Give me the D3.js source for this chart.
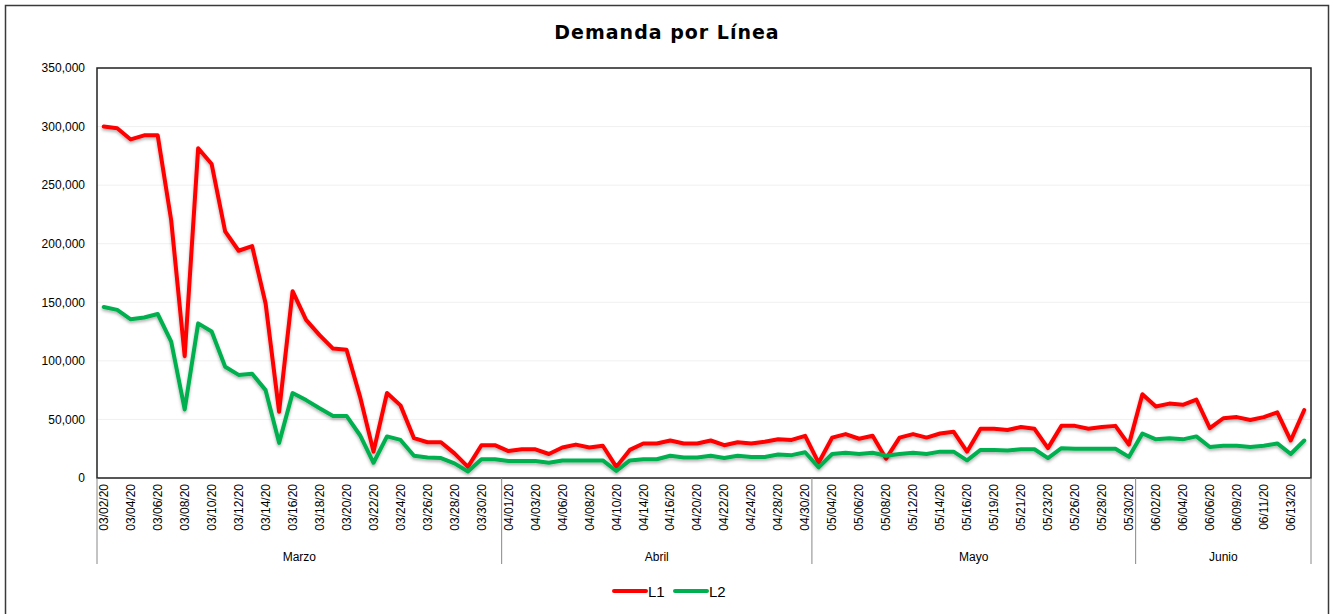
<!DOCTYPE html>
<html><head><meta charset="utf-8">
<script src="https://cdn.jsdelivr.net/npm/d3@7"></script>
<style>body{margin:0;background:#fff}svg{display:block}</style>
</head><body>
<svg id="c" width="1333" height="614"></svg>
<script>
const categories = [
 "03/02/20","03/03/20","03/04/20","03/05/20","03/06/20","03/07/20","03/08/20","03/09/20","03/10/20","03/11/20",
 "03/12/20","03/13/20","03/14/20","03/15/20","03/16/20","03/17/20","03/18/20","03/19/20","03/20/20","03/21/20",
 "03/22/20","03/23/20","03/24/20","03/25/20","03/26/20","03/27/20","03/28/20","03/29/20","03/30/20","03/31/20",
 "04/01/20","04/02/20","04/03/20","04/04/20","04/06/20","04/07/20","04/08/20","04/09/20","04/10/20","04/13/20",
 "04/14/20","04/15/20","04/16/20","04/17/20","04/20/20","04/21/20","04/22/20","04/23/20","04/24/20","04/27/20",
 "04/28/20","04/29/20","04/30/20",
 "05/02/20","05/04/20","05/05/20","05/06/20","05/07/20","05/08/20","05/11/20","05/12/20","05/13/20","05/14/20",
 "05/15/20","05/16/20","05/18/20","05/19/20","05/20/20","05/21/20","05/22/20","05/23/20","05/25/20","05/26/20",
 "05/27/20","05/28/20","05/29/20","05/30/20",
 "06/01/20","06/02/20","06/03/20","06/04/20","06/05/20","06/06/20","06/08/20","06/09/20","06/10/20","06/11/20",
 "06/12/20","06/13/20","06/15/20"
];
const monthNames = {"03":"Marzo","04":"Abril","05":"Mayo","06":"Junio"};
const L1 = [
 300000,298500,289000,292500,292500,220000,104000,281500,268000,210500,
 194000,198000,149000,56500,159500,135000,122000,110500,109500,69500,
 22500,72500,62000,34000,30500,30500,21000,9500,28000,28000,
 23000,24500,24500,20500,26000,28500,26000,27500,9500,24000,
 29500,29500,32000,29500,29500,32000,28000,30500,29500,31000,
 33000,32500,36000,
 13000,34500,37500,33500,36000,16500,34500,37500,34500,38000,
 39500,22500,42000,42000,41000,43500,42000,25500,44500,44500,
 42000,43500,44500,28500,
 71500,61000,63500,62500,67000,42500,51000,52000,49500,52000,
 56000,32000,58000
];
const L2 = [
 146000,143500,135500,137000,140000,116500,58500,132000,125000,95000,
 88000,89000,75000,30000,72500,66500,59500,53000,53000,36500,
 13000,35500,32500,19000,17500,17000,12500,5500,16000,16000,
 14500,14500,14500,13000,15000,15000,15000,15000,6000,15000,
 16000,16000,19000,17500,17500,19000,17000,19000,18000,18000,
 20000,19500,22000,
 9000,20500,21500,20500,21500,19000,20500,21500,20500,22500,
 22500,15000,24000,24000,23500,24500,24500,17000,25500,25000,
 25000,25000,25000,18000,
 38000,33000,34000,33000,35500,26500,27500,27500,26500,27500,
 29500,20500,32000
];
const yTicks = [0,50000,100000,150000,200000,250000,300000,350000];
const series = [{name:"L1", values:L1, color:"#ff0000"},{name:"L2", values:L2, color:"#00b050"}];

const svg = d3.select("#c");
const pLeft = 97, pRight = 1311, pTop = 68, pBottom = 478;
const font = "'Liberation Sans', Arial, sans-serif";

const defs = svg.append("defs");
const f = defs.append("filter").attr("id","sh").attr("x","-5%").attr("y","-5%").attr("width","110%").attr("height","120%");
f.append("feDropShadow").attr("dx",0).attr("dy",2).attr("stdDeviation",1.5).attr("flood-color","#000").attr("flood-opacity",0.3);

svg.append("rect").attr("x",5.5).attr("y",5.5).attr("width",1323).attr("height",612)
  .attr("fill","#fff").attr("stroke","#3a3a3a").attr("stroke-width",1.5);

svg.append("text").attr("x",667).attr("y",39).attr("text-anchor","middle")
  .attr("font-family","'DejaVu Sans', Verdana, sans-serif").attr("font-weight","bold")
  .attr("font-size",19).attr("letter-spacing",1).attr("fill","#000").text("Demanda por Línea");

const x = d3.scaleBand().domain(categories).range([pLeft,pRight]).padding(0);
const y = d3.scaleLinear().domain([0,350000]).range([pBottom,pTop]);

// gridlines
svg.append("g").selectAll("line").data(yTicks).join("line")
  .attr("x1",pLeft).attr("x2",pRight).attr("y1",d=>y(d)).attr("y2",d=>y(d))
  .attr("stroke","#f0f0f0").attr("stroke-width",1);

// y axis labels
const yAxis = svg.append("g").attr("transform",`translate(${pLeft-12},0)`)
  .call(d3.axisLeft(y).tickValues(yTicks).tickFormat(d3.format(",")).tickSize(0).tickPadding(0));
yAxis.select(".domain").remove();
yAxis.selectAll("text").attr("font-family",font).attr("font-size",12).attr("fill","#000");

// plot border
svg.append("rect").attr("x",pLeft).attr("y",pTop).attr("width",pRight-pLeft).attr("height",pBottom-pTop)
  .attr("fill","none").attr("stroke","#222").attr("stroke-width",1.5);

// x category labels
const xAxis = svg.append("g").attr("transform",`translate(0,${pBottom})`)
  .call(d3.axisBottom(x).tickValues(categories.filter((d,i)=>i%2===0)).tickSize(0));
xAxis.select(".domain").remove();
xAxis.selectAll("text").attr("font-family",font).attr("font-size",12).attr("fill","#000")
  .attr("transform","rotate(-90)").attr("text-anchor","end").attr("dy","0.35em").attr("x",-6).attr("y",0);

// month groups
const groups = [];
categories.forEach((c,i)=>{
  const m = c.slice(0,2);
  if(!groups.length || groups[groups.length-1].m!==m) groups.push({m, first:c, last:c});
  else groups[groups.length-1].last = c;
});
const bounds = [pLeft, ...groups.map(g=>x(g.last)+x.bandwidth())];
svg.append("g").selectAll("line").data(bounds).join("line")
  .attr("x1",d=>d).attr("x2",d=>d).attr("y1",pBottom).attr("y2",564)
  .attr("stroke","#888").attr("stroke-width",1);
svg.append("g").selectAll("text").data(groups).join("text")
  .attr("x",g=>(x(g.first)+x(g.last)+x.bandwidth())/2).attr("y",561)
  .attr("text-anchor","middle").attr("font-family",font).attr("font-size",12).attr("fill","#000")
  .text(g=>monthNames[g.m]);

// lines
const line = d3.line().x((d,i)=>x(categories[i])+x.bandwidth()/2).y(d=>y(d));
svg.append("g").selectAll("path").data(series).join("path")
  .attr("d",s=>line(s.values)).attr("fill","none").attr("stroke",s=>s.color)
  .attr("stroke-width",4).attr("stroke-linejoin","round").attr("stroke-linecap","round")
  .attr("filter","url(#sh)");

// legend
const lg = svg.append("g");
const items = [{s:series[0], x:614},{s:series[1], x:675}];
items.forEach(it=>{
  lg.append("line").attr("x1",it.x).attr("x2",it.x+32).attr("y1",591).attr("y2",591)
    .attr("stroke",it.s.color).attr("stroke-width",4).attr("stroke-linecap","round");
  lg.append("text").attr("x",it.x+34).attr("y",596.5).attr("font-family",font).attr("font-size",15)
    .attr("fill","#000").text(it.s.name);
});
</script>
</body></html>
